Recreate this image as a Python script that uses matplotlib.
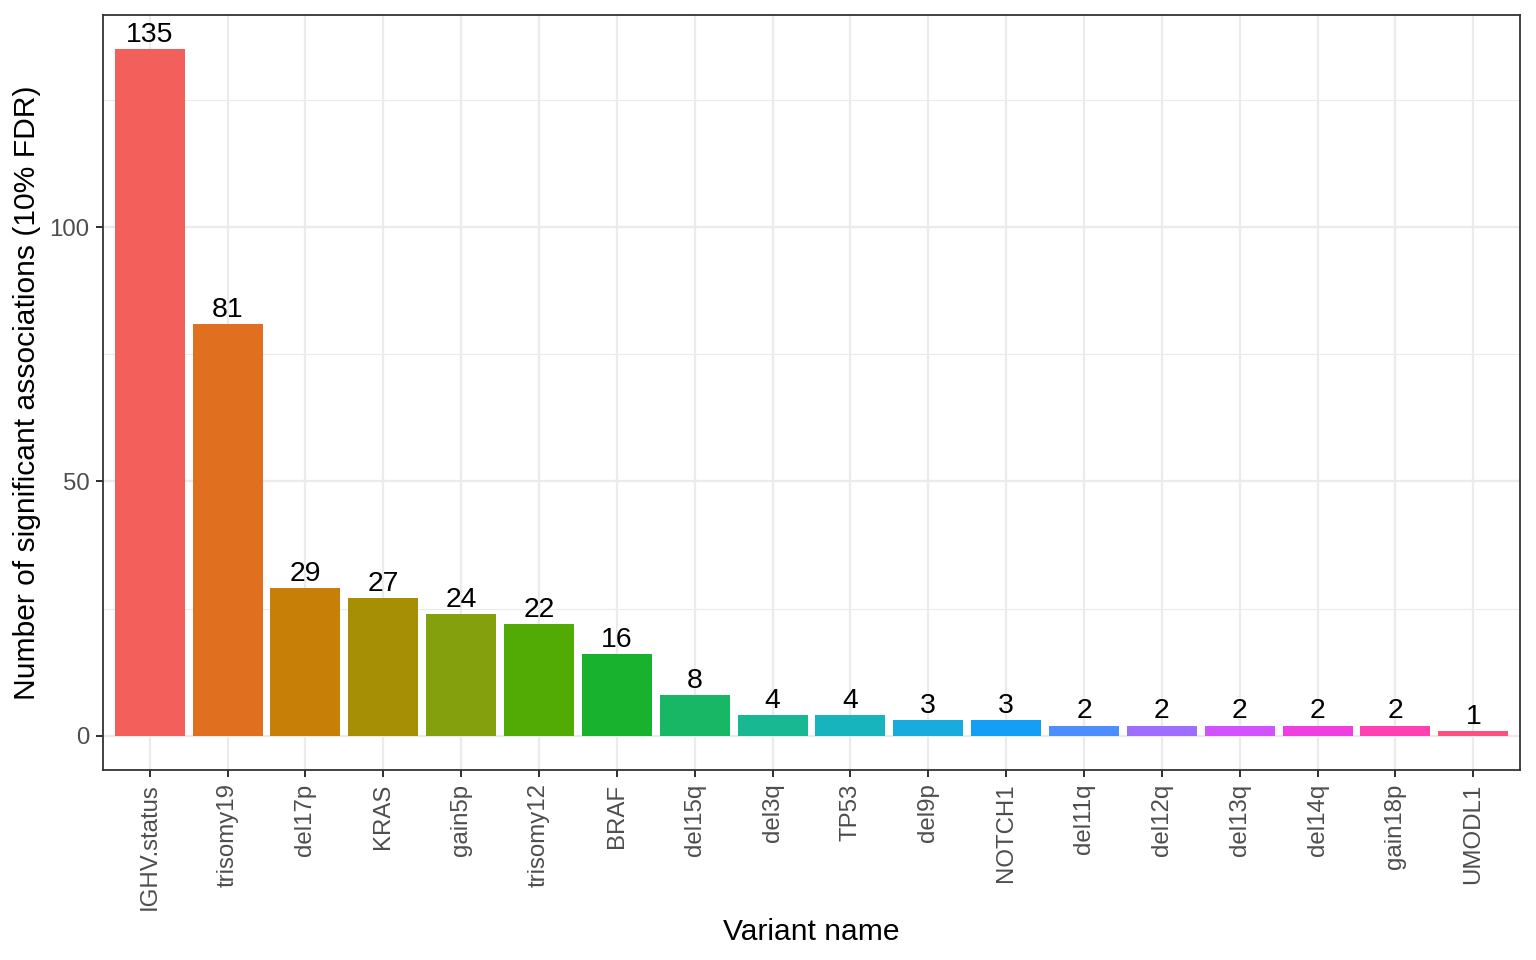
import numpy as np
import matplotlib
matplotlib.use("Agg")
import matplotlib.pyplot as plt
from matplotlib.ticker import MultipleLocator

categories = ["IGHV.status", "trisomy19", "del17p", "KRAS", "gain5p", "trisomy12",
              "BRAF", "del15q", "del3q", "TP53", "del9p", "NOTCH1", "del11q",
              "del12q", "del13q", "del14q", "gain18p", "UMODL1"]
counts = [135, 81, 29, 27, 24, 22, 16, 8, 4, 4, 3, 3, 2, 2, 2, 2, 2, 1]
colors = ["#F35F5B", "#E07020", "#C77F08", "#A68F04", "#84A00C", "#52AB05",
          "#18B22E", "#18B765", "#18B893", "#18B4BE", "#18ABDD", "#139FF5",
          "#4C8DFF", "#9E6EFF", "#D352FF", "#EF3FE0", "#FF40B0", "#FF4F7E"]

plt.rcParams['font.family'] = ['Liberation Sans', 'DejaVu Sans']

fig = plt.figure(figsize=(1536 / 144, 960 / 144), dpi=144)
ax = fig.add_axes([103 / 1536, 1 - 770 / 960, (1520 - 103) / 1536, (770 - 15) / 960])

n = len(categories)
x = np.arange(1, n + 1)
ax.bar(x, counts, width=0.9, color=colors, zorder=3)
for xi, c in zip(x, counts):
    ax.text(xi, c + 0.2, str(c), ha='center', va='bottom', fontsize=14.2, color='black', zorder=4)

ymax = max(counts)
ax.set_ylim(-0.05 * ymax, ymax * 1.05)
ax.set_xlim(0.4, n + 0.6)
ax.set_xticks(x)
ax.set_xticklabels(categories, rotation=90, fontsize=12, color='#4D4D4D')
ax.yaxis.set_major_locator(MultipleLocator(50))
ax.yaxis.set_minor_locator(MultipleLocator(25))
ax.tick_params(axis='y', labelsize=12, labelcolor='#4D4D4D')
ax.tick_params(which='major', length=3.7, width=1.0, color='#333333', pad=3)
ax.tick_params(which='minor', length=0)

ax.grid(True, which='major', color='#EBEBEB', linewidth=1.1, zorder=0)
ax.grid(True, which='minor', axis='y', color='#EBEBEB', linewidth=0.55, zorder=0)
ax.set_axisbelow(True)
for s in ax.spines.values():
    s.set_color('#333333')
    s.set_linewidth(0.9)

ax.set_xlabel("Variant name", fontsize=15, labelpad=4)
ax.set_ylabel("Number of significant associations (10% FDR)", fontsize=15, labelpad=4)

fig.savefig("out.png", dpi=144)
